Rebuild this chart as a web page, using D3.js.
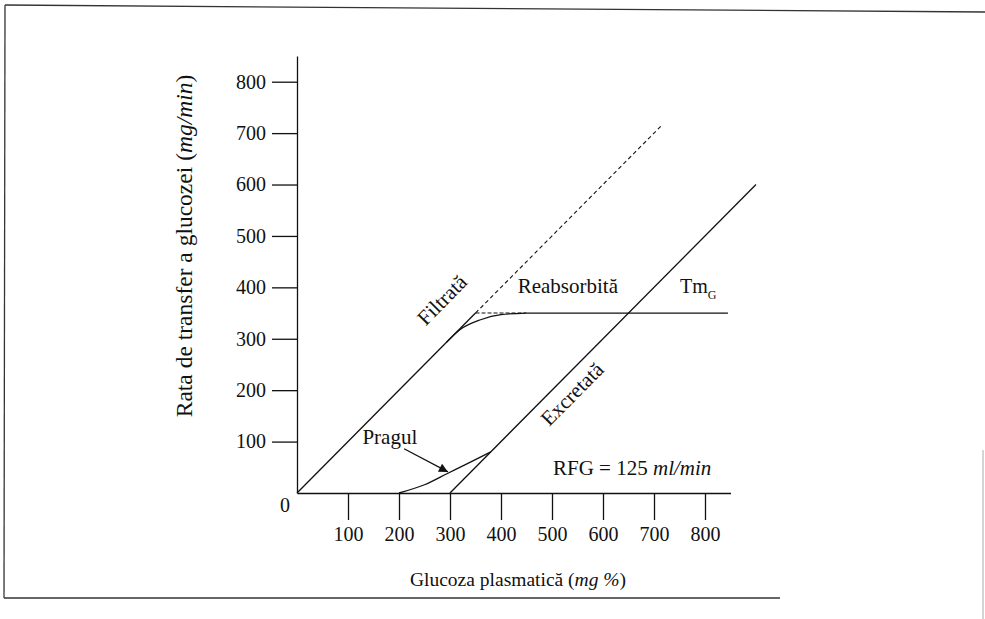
<!DOCTYPE html>
<html>
<head>
<meta charset="utf-8">
<script src="https://cdn.jsdelivr.net/npm/d3@7/dist/d3.min.js"></script>
<style>
  html, body { margin: 0; padding: 0; background: #fff; }
  svg { display: block; }
  text { font-family: "Liberation Serif", "Times New Roman", serif; fill: #111; }
</style>
</head>
<body>
<svg id="chart" width="985" height="619"></svg>
<script>
// ---- data ----
const xTicks = [100, 200, 300, 400, 500, 600, 700, 800];
const yTicks = [100, 200, 300, 400, 500, 600, 700, 800];
const filteredSolid = [[0, 0], [350, 350]];
const filteredDashed = [[350, 350], [715, 715]];
const reabsIdeal = [[350, 350], [450, 350]];
const reabsCurve = [[293, 293], [320, 318], [360, 337], [400, 347], [450, 350]];
const reabsPlateau = [[450, 350], [845, 350]];
const excretedLine = [[300, 0], [900, 600]];
const excretedCurve = [[200, 0], [250, 16], [295, 38], [340, 60], [380, 80]];
const pragulArrow = [[210, 86], [296, 41]];

// ---- layout ----
const svg = d3.select("#chart");
const x = d3.scaleLinear().domain([0, 850]).range([297, 730.5]);
const y = d3.scaleLinear().domain([0, 850]).range([493, 56]);
const ink = "#111";
const line = d3.line().x(d => x(d[0])).y(d => y(d[1]));
const curve = d3.line().x(d => x(d[0])).y(d => y(d[1])).curve(d3.curveMonotoneX);

// page frame (scanned figure border)
const frame = svg.append("g").attr("stroke", "#333").attr("fill", "none");
frame.append("line").attr("x1", 5).attr("y1", 5).attr("x2", 985).attr("y2", 12).attr("stroke-width", 1.3);
frame.append("line").attr("x1", 5).attr("y1", 5).attr("x2", 4).attr("y2", 598).attr("stroke-width", 1.3);
frame.append("line").attr("x1", 4).attr("y1", 598).attr("x2", 780).attr("y2", 598).attr("stroke-width", 1.3);
frame.append("line").attr("x1", 983).attr("y1", 450).attr("x2", 983).attr("y2", 619).attr("stroke", "#aaa").attr("stroke-width", 1);

// axes
const yAxis = d3.axisLeft(y).tickValues(yTicks).tickSize(25).tickSizeOuter(0).tickPadding(6);
const xAxis = d3.axisBottom(x).tickValues(xTicks).tickSize(27).tickSizeOuter(0).tickPadding(7);

const gy = svg.append("g").attr("transform", `translate(${x(0)},0)`).call(yAxis);
const gx = svg.append("g").attr("transform", `translate(0,${y(0)})`).call(xAxis);
[gy, gx].forEach(g => {
  g.attr("font-family", null).attr("font-size", null);
  g.selectAll("path, line").attr("stroke", ink).attr("stroke-width", 1.3);
  g.selectAll("text").style("font-size", "20px").attr("fill", ink);
});

svg.append("text").attr("x", 285).attr("y", 512).attr("text-anchor", "middle")
  .style("font-size", "20px").text("0");

// curves
const marks = svg.append("g").attr("fill", "none").attr("stroke", ink).attr("stroke-width", 1.3);
marks.append("path").attr("d", line(filteredSolid));
marks.append("path").attr("d", line(filteredDashed)).attr("stroke-dasharray", "4,3").attr("stroke-width", 1.1);
marks.append("path").attr("d", line(reabsIdeal)).attr("stroke-dasharray", "4,2").attr("stroke-width", 1.1);
marks.append("path").attr("d", curve(reabsCurve));
marks.append("path").attr("d", line(reabsPlateau));
marks.append("path").attr("d", line(excretedLine));
marks.append("path").attr("d", curve(excretedCurve));

// arrow
svg.append("defs").append("marker")
  .attr("id", "arrowhead").attr("viewBox", "0 0 10 10")
  .attr("refX", 10).attr("refY", 5)
  .attr("markerWidth", 15).attr("markerHeight", 9)
  .attr("markerUnits", "userSpaceOnUse").attr("orient", "auto")
  .append("path").attr("d", "M0,0 L10,5 L0,10 Z").attr("fill", ink);
svg.append("path").attr("d", line(pragulArrow)).attr("stroke", ink)
  .attr("stroke-width", 1.3).attr("fill", "none").attr("marker-end", "url(#arrowhead)");

// labels
const angle = -Math.atan2(y(0) - y(100), x(100) - x(0)) * 180 / Math.PI;
function label(ux, uy, txt, rot) {
  return svg.append("text")
    .attr("transform", `translate(${x(ux)},${y(uy)}) rotate(${rot || 0})`)
    .attr("text-anchor", "middle").attr("dy", "0.35em")
    .style("font-size", "21px").text(txt);
}
label(284, 376, "Filtrată", angle);
label(531, 403, "Reabsorbită");
label(539, 193, "Excretată", angle);
label(182, 109, "Pragul");

const tm = svg.append("text").attr("x", x(751)).attr("y", y(389)).style("font-size", "20px");
tm.append("tspan").text("Tm");
tm.append("tspan").style("font-size", "12px").attr("dy", 6).text("G");

const rfg = svg.append("text").attr("x", x(502)).attr("y", y(35)).style("font-size", "21px");
rfg.append("tspan").text("RFG = 125 ");
rfg.append("tspan").attr("font-style", "italic").text("ml/min");

// axis titles
const xt = svg.append("text").attr("x", 518).attr("y", 586).attr("text-anchor", "middle").style("font-size", "19.5px");
xt.append("tspan").text("Glucoza plasmatică (");
xt.append("tspan").attr("font-style", "italic").text("mg %");
xt.append("tspan").text(")");

const yt = svg.append("text").attr("transform", "translate(192,246) rotate(-90)")
  .attr("text-anchor", "middle").style("font-size", "23.5px");
yt.append("tspan").text("Rata de transfer a glucozei (");
yt.append("tspan").attr("font-style", "italic").text("mg/min");
yt.append("tspan").text(")");
</script>
</body>
</html>
